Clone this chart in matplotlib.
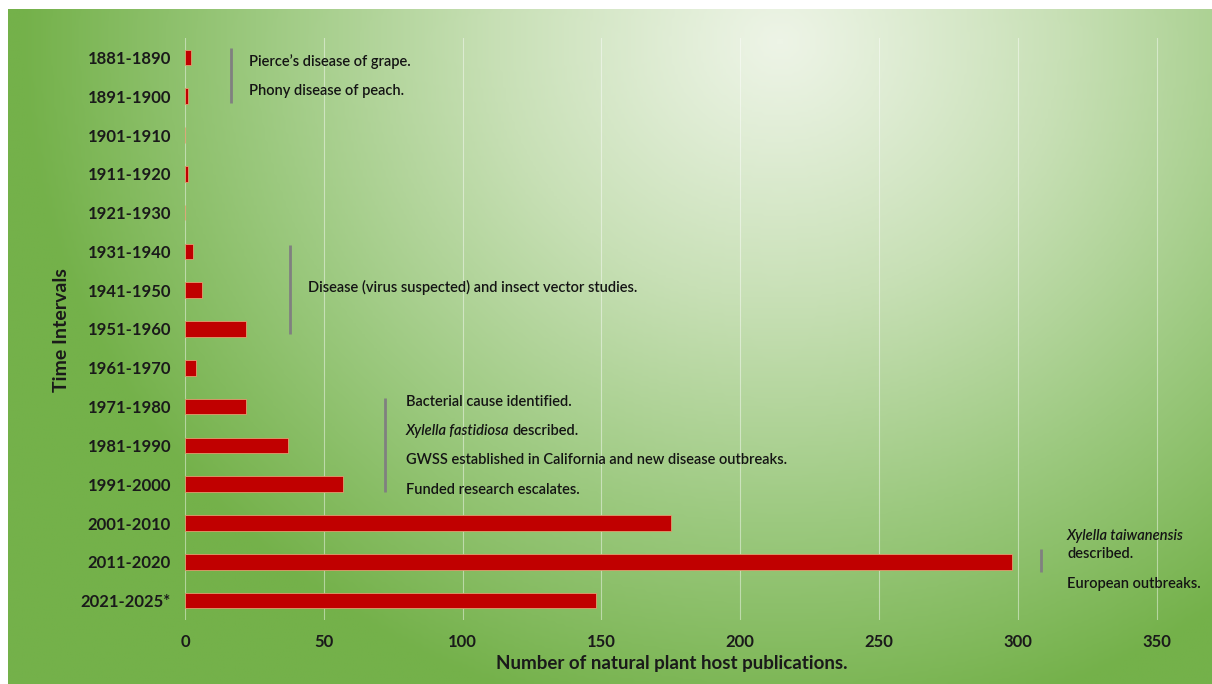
import numpy as np
import matplotlib
matplotlib.use("Agg")
import matplotlib.pyplot as plt
from matplotlib.colors import LinearSegmentedColormap

# ---------------- data ----------------
intervals = ["1881-1890", "1891-1900", "1901-1910", "1911-1920", "1921-1930",
             "1931-1940", "1941-1950", "1951-1960", "1961-1970", "1971-1980",
             "1981-1990", "1991-2000", "2001-2010", "2011-2020", "2021-2025*"]
publications = [2, 1, 0, 1, 0, 3, 6, 22, 4, 22, 37, 57, 175, 298, 148]
x_ticks = [0, 50, 100, 150, 200, 250, 300, 350]

plt.rcParams['font.family'] = ['Lato', 'DejaVu Sans']

W, H = 1212, 684
fig = plt.figure(figsize=(W / 100, H / 100), dpi=100)
fig.patch.set_facecolor('white')

# ---------------- background gradient ----------------
bg = fig.add_axes([8 / W, 0, 1 - 8 / W, 1 - 9 / H])
bg.set_axis_off()
gx, gy = np.meshgrid(np.linspace(8, W, 400), np.linspace(9, H, 240))
cx, cy, rx, ry = 780, 40, 760, 700
d = np.sqrt(((gx - cx) / rx) ** 2 + ((gy - cy) / ry) ** 2)
t = np.clip(d, 0, 1) ** 1.1
cmap = LinearSegmentedColormap.from_list('g', ['#edf4e6', '#c8e0b6', '#9cc97f', '#74b14a'], N=256)
bg.imshow(t, cmap=cmap, vmin=0, vmax=1, aspect='auto', interpolation='bilinear')

# ---------------- main axes ----------------
x0px, x1px, y0px, y1px = 185, 1201, 38, 620
ax = fig.add_axes([x0px / W, 1 - y1px / H, (x1px - x0px) / W, (y1px - y0px) / H])
ax.set_facecolor('none')
n = len(intervals)
pos = np.arange(n)
ax.barh(pos, publications, height=0.4, color='#c00000', edgecolor='#e0a070',
        linewidth=0.6, zorder=3)
ax.set_ylim(n - 0.5, -0.5)
xmax = 366
ax.set_xlim(0, xmax)
ax.set_xticks(x_ticks)
ax.set_xticklabels([str(v) for v in x_ticks], fontsize=12, fontweight='bold', color='#1a1a1a')
ax.set_yticks(pos)
ax.set_yticklabels(intervals, fontsize=12, fontweight='bold', color='#1a1a1a')
ax.tick_params(axis='both', length=0)
ax.tick_params(axis='y', pad=10)
ax.tick_params(axis='x', pad=10)
for s in ax.spines.values():
    s.set_visible(False)
ax.grid(axis='x', color='white', linewidth=0.8, alpha=0.45, zorder=1)
ax.set_axisbelow(True)

ax.set_xlabel('Number of natural plant host publications.', fontsize=13.5,
              fontweight='bold', color='#1a1a1a')
ax.xaxis.set_label_coords(0.479, -(663 - y1px) / (y1px - y0px), transform=ax.transAxes)
ax.xaxis.label.set_va('center')
ax.set_ylabel('Time Intervals', fontsize=14, fontweight='bold', color='#1a1a1a')
ax.yaxis.set_label_coords(-(x0px - 62) / (x1px - x0px), (y1px - 330) / (y1px - y0px),
                          transform=ax.transAxes)
ax.yaxis.label.set_va('center')

# ---------------- annotations ----------------
sx = (x1px - x0px) / xmax
sy = (y1px - y0px) / n
def dx(px):
    return (px - x0px) / sx
def dy(py):
    return (py - y0px) / sy - 0.5

lc = '#808080'
for xp, ya, yb in [(231, 48, 103), (290, 245, 334), (385, 398, 492), (1041, 549, 572)]:
    ax.plot([dx(xp), dx(xp)], [dy(ya), dy(yb)], color=lc, linewidth=2, zorder=4,
            solid_capstyle='butt')

fs = 10.5
tc = '#141414'
wt = 'semibold'
def note(xp, yp, s, style='normal'):
    return ax.text(dx(xp), dy(yp), s, fontsize=fs, va='center', ha='left',
                   color=tc, style=style, fontweight=wt, zorder=5)

note(249, 62, "Pierce\u2019s disease of grape.")
note(249, 91, "Phony disease of peach.")
note(308, 287, "Disease (virus suspected) and insect vector studies.")
note(406, 402, "Bacterial cause identified.")
t1 = note(406, 431, "Xylella fastidiosa", style='italic')
ax.annotate("described.", xy=(1, 0.5), xycoords=t1, xytext=(2.5, 0),
            textcoords='offset points', va='center', ha='left',
            fontsize=fs, color=tc, fontweight=wt)
note(406, 460, "GWSS established in California and new disease outbreaks.")
note(406, 490, "Funded research escalates.")
note(1067, 536, "Xylella taiwanensis", style='italic')
note(1067, 554, "described.")
note(1067, 584, "European outbreaks.")

fig.savefig('out.png', dpi=100, facecolor='white')
